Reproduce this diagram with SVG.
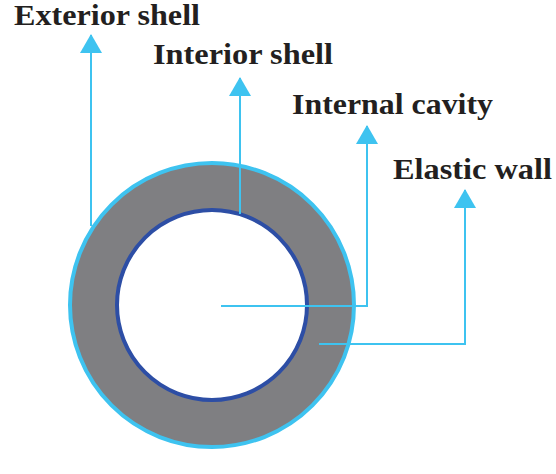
<svg xmlns="http://www.w3.org/2000/svg" width="556" height="474" viewBox="0 0 556 474">
<style>
.lbl{font-family:"Liberation Serif","Times New Roman",serif;font-weight:bold;font-size:30px;fill:#231f20}
.ld{fill:none;stroke:#3ec3f0;stroke-width:2}
</style>
<defs>
<marker id="ah" viewBox="0 0 19 22" refX="18" refY="11" markerWidth="19" markerHeight="22" markerUnits="userSpaceOnUse" orient="auto">
<path d="M0,0 L19,11 L0,22 Z" fill="#3ec3f0"/>
</marker>
</defs>
<rect width="556" height="474" fill="#fff"/>
<g id="ring">
<circle cx="212" cy="305" r="142" fill="#7f7f82" stroke="#3ec3f0" stroke-width="4"/>
<circle cx="212" cy="305" r="95" fill="#fff" stroke="#2d4ea5" stroke-width="4"/>
</g>
<g id="connectors">
<path class="ld" d="M91,226 V35" marker-end="url(#ah)"/>
<path class="ld" d="M240,214 V78" marker-end="url(#ah)"/>
<path class="ld" d="M221,306 H367 V126" marker-end="url(#ah)"/>
<path class="ld" d="M319,344 H465 V190" marker-end="url(#ah)"/>
</g>
<g id="exterior-shell"><text class="lbl" x="14" y="25" textLength="186" lengthAdjust="spacingAndGlyphs">Exterior shell</text></g>
<g id="interior-shell"><text class="lbl" x="153" y="64" textLength="180" lengthAdjust="spacingAndGlyphs">Interior shell</text></g>
<g id="internal-cavity"><text class="lbl" x="292" y="114" textLength="201" lengthAdjust="spacingAndGlyphs">Internal cavity</text></g>
<g id="elastic-wall"><text class="lbl" x="393" y="179" textLength="159" lengthAdjust="spacingAndGlyphs">Elastic wall</text></g>
</svg>
